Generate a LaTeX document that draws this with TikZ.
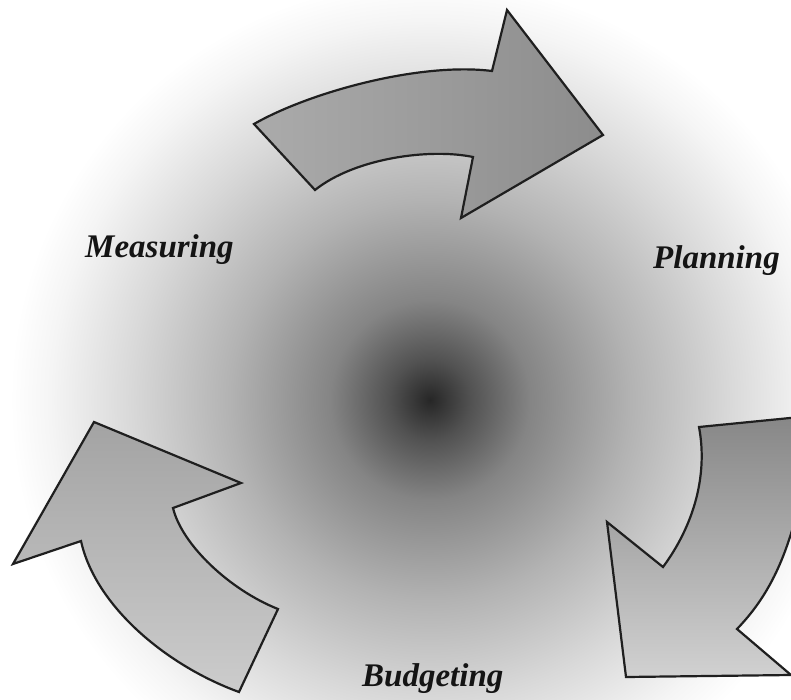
\documentclass[tikz,border=0pt]{standalone}
\usepackage{fontspec}
\setmainfont{Liberation Serif}
\pgfdeclareradialshading{bgglow}{\pgfpoint{0bp}{0bp}}{%
  color(0bp)=(black!85);
  color(2.4bp)=(black!68);
  color(5.95bp)=(black!48);
  color(11.9bp)=(black!30);
  color(17.85bp)=(black!15);
  color(22.6bp)=(black!4);
  color(25bp)=(white);
  color(50bp)=(white)}
\begin{document}
\begin{tikzpicture}[x=1pt,y=-1pt,
  arrowshape/.style={draw=black!88,line width=2.2pt,line join=miter},
  label/.style={font=\fontsize{33}{38}\selectfont\bfseries\itshape,text=black!92,inner sep=0pt,anchor=base west}]
\useasboundingbox (0,0) rectangle (791,700);
\begin{scope}
\clip (0,0) rectangle (791,700);
\fill[white] (0,0) rectangle (791,700);
\shade[shading=bgglow] (430,400) circle[radius=420pt];
% top arrow
\shadedraw[arrowshape,left color=black!33,right color=black!45]
  (254,124) .. controls (310,92) and (420,62) .. (492,71)
  -- (507,10) -- (603,135) -- (461,218) -- (473,157)
  .. controls (430,148) and (355,158) .. (315,190) -- cycle;
% bottom-left arrow
\shadedraw[arrowshape,top color=black!36,bottom color=black!20]
  (94,422) -- (241,483) -- (173,508)
  .. controls (182,545) and (230,590) .. (278,609)
  -- (239,692)
  .. controls (165,665) and (95,605) .. (81,541)
  -- (13,564) -- cycle;
% bottom-right arrow
\shadedraw[arrowshape,top color=black!47,bottom color=black!18]
  (699,427) -- (800,417) -- (795,520)
  .. controls (780,575) and (760,605) .. (737,629)
  -- (791,675) -- (626,677) -- (607,522) -- (663,567)
  .. controls (694,525) and (708,475) .. cycle;
\end{scope}
\node[label] (measuring) at (85,258) {Measuring};
\node[label] (planning) at (653,269) {Planning};
\node[label] (budgeting) at (362,686) {Budgeting};
\end{tikzpicture}
\end{document}
